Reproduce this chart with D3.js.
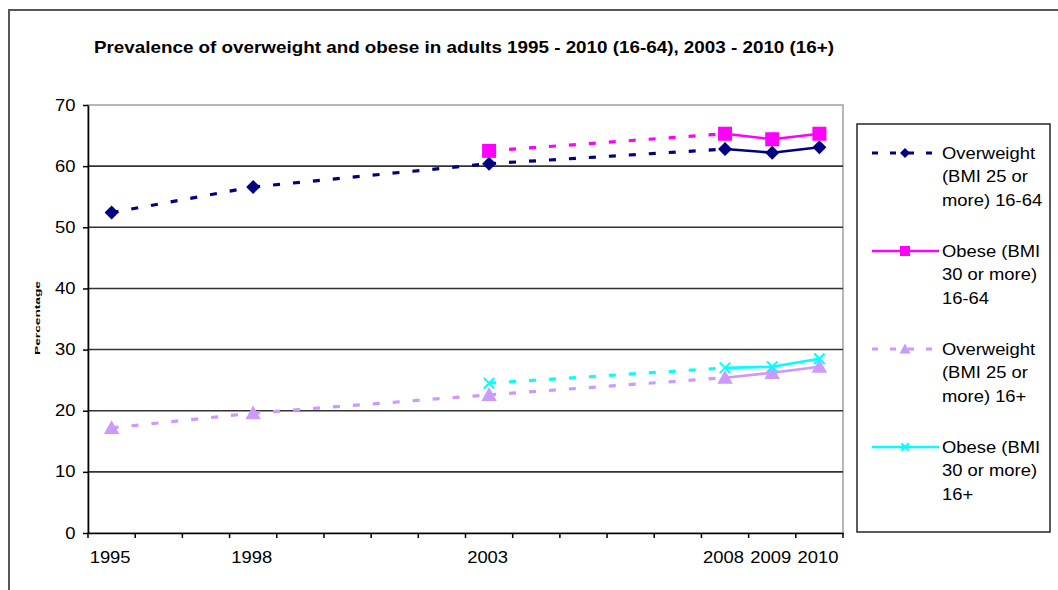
<!DOCTYPE html>
<meta charset="utf-8">
<style>
  body { margin: 0; background: #fff; }
  svg text { font-family: "Liberation Sans", Arial, sans-serif; fill: #000; }
</style>
<svg id="chart" width="1058" height="590"></svg>
<script src="https://cdn.jsdelivr.net/npm/d3@7"></script>
<script>

// data
var categories = [1995, 1996, 1997, 1998, 1999, 2000, 2001, 2002, 2003, 2004, 2005, 2006, 2007, 2008, 2009, 2010];
var labelledYears = [1995, 1998, 2003, 2008, 2009, 2010];
var surveyYears = [1995, 1998, 2003, 2008, 2009, 2010];
var overweight1664 = [52.4, 56.6, 60.4, 62.8, 62.2, 63.1];
var obese1664 = [null, null, 62.5, 65.3, 64.4, 65.3];
var overweight16 = [17.2, 19.6, 22.6, 25.4, 26.2, 27.2];
var obese16 = [null, null, 24.5, 27.0, 27.2, 28.5];
var yTicks = [0, 10, 20, 30, 40, 50, 60, 70];
var seriesNames = [
  ["Overweight", "(BMI 25 or", "more) 16-64"],
  ["Obese (BMI", "30 or more)", "16-64"],
  ["Overweight", "(BMI 25 or", "more) 16+"],
  ["Obese (BMI", "30 or more)", "16+"]
];
var title = "Prevalence of overweight and obese in adults 1995 - 2010 (16-64), 2003 - 2010 (16+)";

var series = [
  { values: overweight1664, color: "#000080", marker: "diamond", name: seriesNames[0], legendDash: true },
  { values: obese1664, color: "#ff00ff", marker: "square", name: seriesNames[1], legendDash: false },
  { values: overweight16, color: "#cc99ff", marker: "triangle", name: seriesNames[2], legendDash: true },
  { values: obese16, color: "#00ffff", marker: "cross", name: seriesNames[3], legendDash: false }
];

var svg = d3.select("#chart");
var SX = 1.15; // the reference text is stretched sideways

var plotLeft = 88, plotRight = 843, plotTop = 105, plotBottom = 533;

var x = d3.scaleBand().domain(categories).range([plotLeft, plotRight]).padding(0);
var y = d3.scaleLinear().domain([0, 70]).range([plotBottom, plotTop]);
function cx(year) { return x(year) + x.bandwidth() / 2; }

// outer frame
svg.append("path")
  .attr("d", "M9,590 V10 H1058")
  .attr("fill", "none").attr("stroke", "#555").attr("stroke-width", 2);

// title
svg.append("text")
  .attr("x", 94).attr("y", 53)
  .attr("font-size", 16.5).attr("font-weight", "bold")
  .attr("textLength", 740).attr("lengthAdjust", "spacingAndGlyphs")
  .text(title);

// plot area border
svg.append("rect")
  .attr("x", plotLeft).attr("y", plotTop)
  .attr("width", plotRight - plotLeft).attr("height", plotBottom - plotTop)
  .attr("fill", "#fff").attr("stroke", "#a0a0a0").attr("stroke-width", 1.5);

// gridlines
svg.append("g").selectAll("line")
  .data(yTicks.filter(function(d){ return d > 0 && d < 70; }))
  .join("line")
  .attr("x1", plotLeft).attr("x2", plotRight)
  .attr("y1", function(d){ return y(d); }).attr("y2", function(d){ return y(d); })
  .attr("stroke", "#333").attr("stroke-width", 1.6);

// y axis
var yAxis = svg.append("g")
  .attr("transform", "translate(" + plotLeft + ",0)")
  .call(d3.axisLeft(y).tickValues(yTicks).tickSize(5).tickSizeOuter(0));
yAxis.select(".domain").attr("stroke", "#000").attr("stroke-width", 1.6);
yAxis.selectAll(".tick line").attr("stroke", "#000").attr("stroke-width", 1.5);
yAxis.selectAll(".tick text")
  .attr("font-size", 16).attr("font-family", "Liberation Sans, Arial, sans-serif")
  .attr("x", -12.5 / SX).attr("transform", "scale(" + SX + ",1)");

// x axis: labels at category centres, ticks between categories
var xAxis = svg.append("g")
  .attr("transform", "translate(0," + plotBottom + ")")
  .call(d3.axisBottom(x).tickSize(0).tickSizeOuter(0)
    .tickFormat(function(d){ return labelledYears.indexOf(d) >= 0 ? d : ""; }));
xAxis.select(".domain").attr("stroke", "#000").attr("stroke-width", 1.6);
xAxis.selectAll(".tick text")
  .attr("font-size", 16).attr("font-family", "Liberation Sans, Arial, sans-serif")
  .attr("y", 19).attr("x", -1.5 / SX)
  .attr("transform", "scale(" + SX + ",1)");

var bounds = categories.map(function(d){ return x(d); }).concat([x.range()[1]]);
xAxis.selectAll(".btick").data(bounds).join("line")
  .attr("class", "btick")
  .attr("x1", function(d){ return d; }).attr("x2", function(d){ return d; })
  .attr("y1", 0).attr("y2", 5)
  .attr("stroke", "#000").attr("stroke-width", 1.5);

// y axis title
svg.append("text")
  .attr("transform", "translate(40,318) rotate(-90)")
  .attr("text-anchor", "middle")
  .attr("font-size", 7.5).attr("font-weight", "bold")
  .attr("textLength", 74).attr("lengthAdjust", "spacingAndGlyphs")
  .text("Percentage");

// markers
function drawMarker(g, type, px, py, color, s) {
  if (type === "diamond") {
    g.append("path")
      .attr("d", "M" + px + "," + (py - s) + "L" + (px + s) + "," + py + "L" + px + "," + (py + s) + "L" + (px - s) + "," + py + "Z")
      .attr("fill", color);
  } else if (type === "square") {
    g.append("rect").attr("x", px - s).attr("y", py - s).attr("width", 2 * s).attr("height", 2 * s)
      .attr("fill", color);
  } else if (type === "triangle") {
    var t = s * 1.1;
    g.append("path")
      .attr("d", "M" + px + "," + (py - t) + "L" + (px + t) + "," + (py + t * 0.8) + "L" + (px - t) + "," + (py + t * 0.8) + "Z")
      .attr("fill", color);
  } else {
    var c = s * 0.75;
    g.append("path")
      .attr("d", "M" + (px - c) + "," + (py - c) + "L" + (px + c) + "," + (py + c) + "M" + (px + c) + "," + (py - c) + "L" + (px - c) + "," + (py + c))
      .attr("stroke", color).attr("stroke-width", 2);
  }
}

// series
series.forEach(function(s){
  var pts = [];
  surveyYears.forEach(function(yr, i){
    if (s.values[i] != null) pts.push({ year: yr, v: s.values[i] });
  });
  var g = svg.append("g");
  for (var i = 1; i < pts.length; i++) {
    var a = pts[i - 1], b = pts[i];
    var dashed = (b.year - a.year) > 1;
    g.append("line")
      .attr("x1", cx(a.year)).attr("y1", y(a.v))
      .attr("x2", cx(b.year)).attr("y2", y(b.v))
      .attr("stroke", s.color)
      .attr("stroke-width", dashed ? 3.2 : 2.6)
      .attr("stroke-dasharray", dashed ? "7,13" : null);
  }
  pts.forEach(function(p){
    drawMarker(g, s.marker, cx(p.year), y(p.v), s.color, 7);
  });
});

// legend
svg.append("rect")
  .attr("x", 857).attr("y", 124).attr("width", 193).attr("height", 408)
  .attr("fill", "#fff").attr("stroke", "#333").attr("stroke-width", 1.6);

series.forEach(function(s, i){
  var ly = 153 + i * 98;
  var g = svg.append("g");
  g.append("line")
    .attr("x1", 872).attr("x2", 939).attr("y1", ly).attr("y2", ly)
    .attr("stroke", s.color)
    .attr("stroke-width", s.legendDash ? 3 : 2.6)
    .attr("stroke-dasharray", s.legendDash ? "6,12" : null);
  drawMarker(g, s.marker, 905, ly, s.color, 5);
  s.name.forEach(function(line, j){
    g.append("text")
      .attr("transform", "translate(942," + (ly + 5.5 + j * 23.5) + ") scale(" + SX + ",1)")
      .attr("font-size", 16)
      .text(line);
  });
});

</script>
</html>
